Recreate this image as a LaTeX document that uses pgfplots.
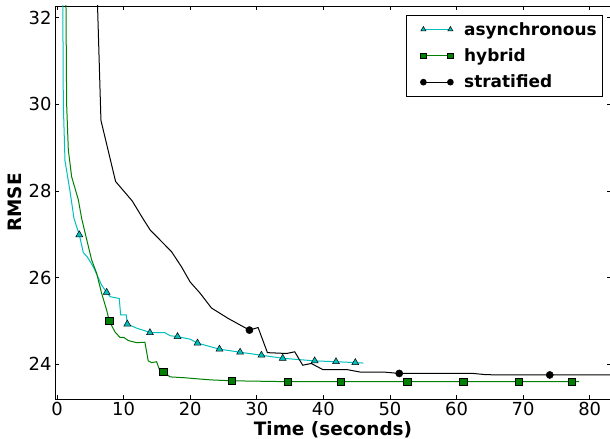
\documentclass[border=0pt]{standalone}
\usepackage{pgfplots}
\pgfplotsset{compat=1.18}
\usepackage{fontspec}
\setmainfont{DejaVu Sans}
\definecolor{mplc}{rgb}{0,0.75,0.75}
\definecolor{mplg}{rgb}{0,0.5,0}
\begin{document}
\begin{tikzpicture}
\begin{axis}[
  scale only axis, width=556bp, height=393bp,
  xmin=-0.3, xmax=83.2, ymin=23.2, ymax=32.27,
  xtick={0,10,...,80}, ytick={24,26,...,32},
  tick align=inside, major tick length=4bp,
  axis line style={line width=0.8bp},
  every tick/.style={black, line width=0.6bp},
  tick label style={font=\fontsize{18}{20}\selectfont},
  /pgf/number format/assume math mode=true,
  label style={font=\fontsize{18.5}{21}\selectfont\bfseries},
  xlabel={Time (seconds)}, ylabel={RMSE},
  xlabel style={yshift=1bp},
  legend style={at={(axis description cs:1,1)}, anchor=north east,
    xshift=-8bp, yshift=-9bp, draw=black, line width=0.6bp,
    font=\fontsize{17}{20}\selectfont\bfseries, legend cell align=left,
    inner xsep=4bp, inner ysep=5bp, row sep=8bp,
    /tikz/every odd column/.append style={column sep=9bp}},
  legend image code/.code={\path (-6bp,0bp); \draw[#1,mark repeat=2,mark phase=1] plot coordinates {(7bp,0bp)(20.5bp,0bp)(34bp,0bp)};},
]
% asynchronous
\addplot[mplc, line width=1bp, forget plot] coordinates {
(0.85,33.0)(0.95,30.0)(1.2,28.7)(1.95,28.0)(2.55,27.37)(2.9,27.2)(3.35,26.99)
(3.95,26.58)(4.55,26.48)(5.45,26.25)(6.7,25.83)(7.46,25.66)(8.0,25.56)(9.35,25.52)
(9.56,25.14)(10.4,25.14)(10.56,24.93)(12.05,24.83)(13.7,24.75)(13.96,24.73)
(16.2,24.73)(17.0,24.66)(18.1,24.64)(20.0,24.58)(21.1,24.49)(24.4,24.35)(27.5,24.28)
(30.7,24.21)(33.9,24.14)(38.7,24.08)(41.9,24.06)(44.8,24.04)(46.0,24.03)};
\addplot[only marks, mark=triangle*, mark size=4bp, draw=black, fill=mplc, line width=0.5bp, forget plot] coordinates {
(3.35,26.99)(7.46,25.66)(10.56,24.93)(13.96,24.73)(18.1,24.64)(21.1,24.49)(24.4,24.35)
(27.5,24.28)(30.7,24.21)(33.9,24.14)(38.7,24.08)(41.9,24.06)(44.8,24.04)};
% hybrid
\addplot[mplg, line width=1bp, forget plot] coordinates {
(1.3,33.0)(1.35,32.27)(1.45,30.0)(1.7,28.95)(2.2,28.33)(3.2,27.8)(3.7,27.37)(4.35,26.95)
(5.2,26.41)(5.96,26.1)(6.7,25.64)(7.46,25.25)(7.85,25.0)(8.7,24.75)(9.46,24.62)
(10.06,24.62)(10.7,24.55)(11.96,24.5)(13.2,24.51)(13.7,24.08)(14.2,24.04)(14.96,24.06)
(15.4,23.87)(15.96,23.82)(17.0,23.71)(19.2,23.69)(21.5,23.66)(23.2,23.64)(26.3,23.62)
(34.6,23.6)(42.6,23.6)(52.6,23.6)(61.0,23.6)(69.4,23.6)(77.3,23.6)(78.4,23.6)};
\addplot[only marks, mark=square*, mark size=3.6bp, draw=black, fill=mplg, line width=0.5bp, forget plot] coordinates {
(7.85,25.0)(15.96,23.82)(26.3,23.62)(34.6,23.6)(42.6,23.6)(52.6,23.6)(61.0,23.6)(69.4,23.6)(77.3,23.6)};
% stratified
\addplot[black, line width=1bp, forget plot] coordinates {
(5.95,33.0)(6.6,29.63)(8.8,28.22)(11.3,27.77)(12.96,27.35)(14.0,27.1)(17.2,26.6)
(18.7,26.25)(20.0,25.9)(21.5,25.64)(23.2,25.3)(25.7,25.06)(28.9,24.79)(30.2,24.85)
(31.6,24.27)(34.5,24.25)(35.7,24.29)(36.9,23.98)(38.2,24.02)(39.9,23.88)(43.5,23.88)
(45.6,23.82)(49.2,23.82)(51.4,23.79)(62.5,23.79)(64.5,23.76)(74.0,23.755)(84,23.755)};
\addplot[only marks, mark=*, mark size=3.6bp, draw=black, fill=black, forget plot] coordinates {
(28.9,24.79)(51.4,23.79)(74.0,23.755)};
\addlegendimage{mplc, line width=1bp, mark=triangle*, mark size=3bp, mark options={draw=black, fill=mplc, line width=0.5bp}}
\addlegendentry{asynchronous}
\addlegendimage{mplg, line width=1bp, mark=square*, mark size=2.8bp, mark options={draw=black, fill=mplg, line width=0.5bp}}
\addlegendentry{hybrid}
\addlegendimage{black, line width=1bp, mark=*, mark size=2.8bp, mark options={draw=black, fill=black}}
\addlegendentry{stratified}
\end{axis}
\pgfresetboundingbox
\useasboundingbox ([xshift=-55bp,yshift=-40bp]current axis.south west) rectangle ([xshift=-1bp,yshift=6bp]current axis.north east);
\end{tikzpicture}
\end{document}
